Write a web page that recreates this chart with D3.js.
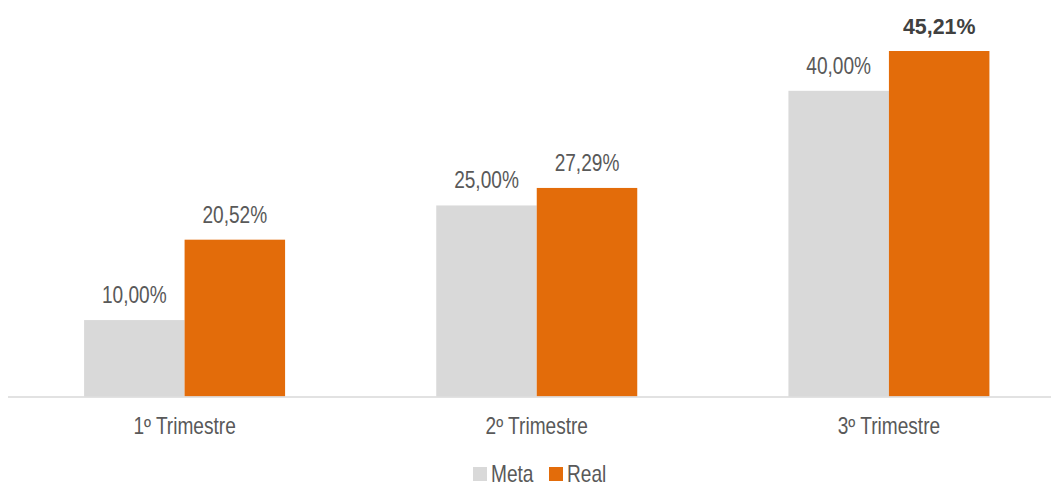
<!DOCTYPE html>
<html>
<head>
<meta charset="utf-8">
<script src="https://cdn.jsdelivr.net/npm/d3@7"></script>
<style>
    body { margin: 0; background: #fff; }
    svg text { font-family: "Liberation Sans Narrow", "Arial Narrow", "Liberation Sans", sans-serif; fill: #595959; }
</style>
</head>
<body>
<div id="chart"></div>
<script>
// data
let categories = ["1º Trimestre", "2º Trimestre", "3º Trimestre"];
let seriesNames = ["Meta", "Real"];
let metaValues = [10.00, 25.00, 40.00];
let realValues = [20.52, 27.29, 45.21];
let seriesColors = ["#d9d9d9", "#e36c0a"];

let width = 1051,
    height = 486;

// no narrow font installed, so squeeze the regular one
let squeeze = 0.83;
let fontSize = "23px";

let svg = d3.select("#chart").append("svg")
    .attr("width", width)
    .attr("height", height);

// scales
let x = d3.scaleBand()
    .domain(categories)
    .range([8.5, 1065])
    .padding(0);

let xSeries = d3.scaleBand()
    .domain(seriesNames)
    .range([x.bandwidth() / 2 - 100.5, x.bandwidth() / 2 + 100.5])
    .padding(0);

let y = d3.scaleLinear()
    .domain([0, 45.21])
    .range([396.5, 51]);

let fmt = v => v.toFixed(2).replace(".", ",") + "%";

let rows = categories.map((c, i) => ({
    cat: c,
    values: [
        {name: "Meta", value: metaValues[i]},
        {name: "Real", value: realValues[i]}
    ]
}));

let color = d3.scaleOrdinal().domain(seriesNames).range(seriesColors);

let groups = svg.selectAll(".group")
    .data(rows)
    .enter().append("g")
    .attr("class", "group")
    .attr("transform", d => `translate(${x(d.cat)},0)`);

groups.selectAll("rect")
    .data(d => d.values)
    .enter().append("rect")
    .attr("x", d => xSeries(d.name))
    .attr("y", d => y(d.value))
    .attr("width", xSeries.bandwidth())
    .attr("height", d => y(0) - y(d.value))
    .attr("fill", d => color(d.name));

// value labels (max gets bold)
let maxVal = d3.max(realValues);
groups.selectAll(".val")
    .data(d => d.values)
    .enter().append("text")
    .attr("class", "val")
    .attr("transform", d => `translate(${xSeries(d.name) + xSeries.bandwidth() / 2},${y(d.value) - 17}) scale(${d.value === maxVal ? 0.93 : squeeze},1)`)
    .attr("text-anchor", "middle")
    .style("font-size", fontSize)
    .style("font-weight", d => d.value === maxVal ? "bold" : "normal")
    .style("fill", d => d.value === maxVal ? "#404040" : "#595959")
    .text(d => fmt(d.value));

// axis line
svg.append("line")
    .attr("x1", 8)
    .attr("x2", width)
    .attr("y1", y(0) + 0.5)
    .attr("y2", y(0) + 0.5)
    .attr("stroke", "#d9d9d9")
    .attr("stroke-width", 1.5);

// category labels
svg.selectAll(".cat")
    .data(categories)
    .enter().append("text")
    .attr("class", "cat")
    .attr("transform", d => `translate(${x(d) + x.bandwidth() / 2},434) scale(${squeeze},1)`)
    .attr("text-anchor", "middle")
    .style("font-size", fontSize)
    .text(d => d);

// legend
let legend = svg.append("g")
    .attr("class", "legend")
    .attr("transform", "translate(473, 467)");

let legendX = [0, 76];
let items = legend.selectAll(".item")
    .data(seriesNames)
    .enter().append("g")
    .attr("class", "item")
    .attr("transform", (d, i) => `translate(${legendX[i]},0)`);

items.append("rect")
    .attr("width", 14)
    .attr("height", 14)
    .attr("fill", d => color(d));

items.append("text")
    .attr("transform", `translate(18,15) scale(${squeeze},1)`)
    .style("font-size", fontSize)
    .text(d => d);
</script>
</body>
</html>
